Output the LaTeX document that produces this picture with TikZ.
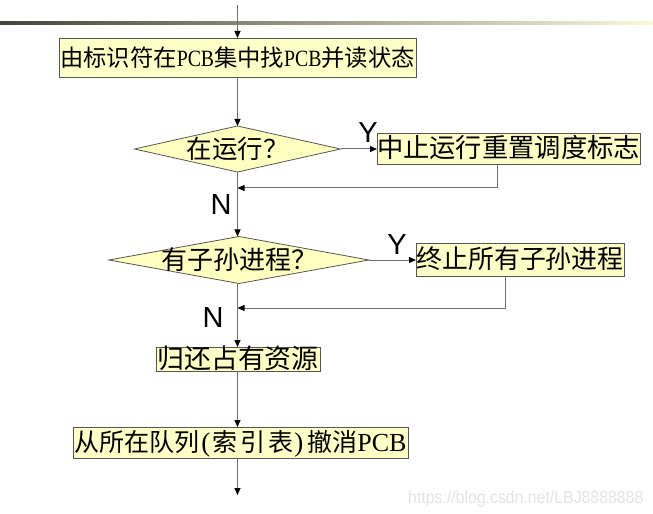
\documentclass[tikz,border=0pt]{standalone}
\usepackage{fontspec}
\newfontfamily\cjk{Noto Sans CJK SC}
\newfontfamily\lsans{Liberation Sans}
\newfontfamily\pcbfont[FakeStretch=0.85]{Liberation Serif}
\newfontfamily\pcbwide{Liberation Serif}
\newfontfamily\wmfont[FakeStretch=0.9]{Liberation Sans}
\usetikzlibrary{arrows.meta,shapes.geometric,calc}
\definecolor{boxfill}{HTML}{FFFFC8}
\definecolor{diafill}{HTML}{FFFFC0}
\definecolor{boxline}{HTML}{555555}
\definecolor{linec}{HTML}{6E6E6E}
\definecolor{barL}{HTML}{45453A}
\definecolor{barM}{HTML}{B5B08A}
\definecolor{barR}{HTML}{FBF8D8}
\definecolor{wmc}{HTML}{E4E4E4}
\begin{document}
\begin{tikzpicture}[x=1bp,y=-1bp,
  box/.style={draw=boxline, fill=boxfill, line width=0.8bp, inner sep=0pt, outer sep=0pt, text height=20bp, text depth=2bp},
  dia/.style={diamond, draw=boxline, fill=diafill, line width=0.8bp, inner sep=0pt, outer sep=0pt, text height=0pt, text depth=0pt},
  conn/.style={draw=linec, line width=1bp, -{Triangle[length=7bp,width=6bp,color=black]}},
  yn/.style={font=\lsans\fontsize{29bp}{32bp}\selectfont, inner sep=0pt, anchor=base},
]
\useasboundingbox (0,0) rectangle (653,514);
\shade[left color=barL, middle color=barM, right color=barR] (0,22) rectangle (653,25);

\coordinate (ax) at (237.5,0);
\coordinate (top) at (237.5,5);

\node[box, minimum width=357bp, minimum height=39bp, font=\cjk\fontsize{23.3bp}{26bp}\selectfont] (b1) at (237.5,57.5) {由标识符在{\pcbfont PCB}集中找{\pcbfont PCB}并读状态};
\node[dia, minimum width=206bp, minimum height=46bp] (d1) at (237.5,149) {\makebox[0pt]{\raisebox{-9.5bp}{\cjk\fontsize{25.5bp}{28bp}\selectfont 在运行？}}};
\node[box, minimum width=261bp, minimum height=31bp, font=\cjk\fontsize{26.3bp}{28bp}\selectfont] (b2) at (508.5,148.5) {中止运行重置调度标志};
\node[dia, minimum width=260bp, minimum height=47bp] (d2) at (239,260) {\makebox[0pt]{\raisebox{-9.5bp}{\cjk\fontsize{26bp}{28bp}\selectfont 有子孙进程？}}};
\node[box, minimum width=208bp, minimum height=33bp, font=\cjk\fontsize{25.9bp}{28bp}\selectfont] (b3) at (520,259.5) {终止所有子孙进程};
\node[box, minimum width=164bp, minimum height=24bp, font=\cjk\fontsize{26.9bp}{28bp}\selectfont] (b4) at (238,359) {归还占有资源};
\node[box, minimum width=335bp, minimum height=31bp, font=\cjk\fontsize{25bp}{28bp}\selectfont] (b5) at (240.5,442.5) {从所在队列\hspace{2bp}{\pcbwide\fontsize{27bp}{28bp}\selectfont(}\hspace{2bp}索\hspace{3bp}引\hspace{3bp}表\hspace{1bp}{\pcbwide\fontsize{27bp}{28bp}\selectfont)}\hspace{4bp}撤消{\pcbwide\fontsize{26bp}{28bp}\selectfont PCB}};

\coordinate (r1) at (497,188);
\coordinate (r2) at (505,308);
\coordinate (endp) at (237.5,495);

\draw[conn] (top) -- (ax |- b1.north);
\draw[conn] (ax |- b1.south) -- (ax |- d1.north);
\draw[conn] (d1.east) -- (d1.east -| b2.west);
\draw[conn] (r1 |- b2.south) -- (r1) -- (ax |- r1);
\draw[conn] (ax |- d1.south) -- (ax |- d2.north);
\draw[conn] (d2.east) -- (d2.east -| b3.west);
\draw[conn] (r2 |- b3.south) -- (r2) -- (ax |- r2);
\draw[conn] (ax |- d2.south) -- (ax |- b4.north);
\draw[conn] (ax |- b4.south) -- (ax |- b5.north);
\draw[conn] (ax |- b5.south) -- (endp);

\node[yn] (y1) at (368,143) {Y};
\node[yn] (n1) at (221,215) {N};
\node[yn] (y2) at (397,255) {Y};
\node[yn] (n2) at (213,327) {N};

\node[anchor=base west, inner sep=0pt, text=wmc, font=\wmfont\fontsize{17.6bp}{20bp}\selectfont] (wm) at (408,503) {https://blog.csdn.net/LBJ8888888};
\end{tikzpicture}
\end{document}
